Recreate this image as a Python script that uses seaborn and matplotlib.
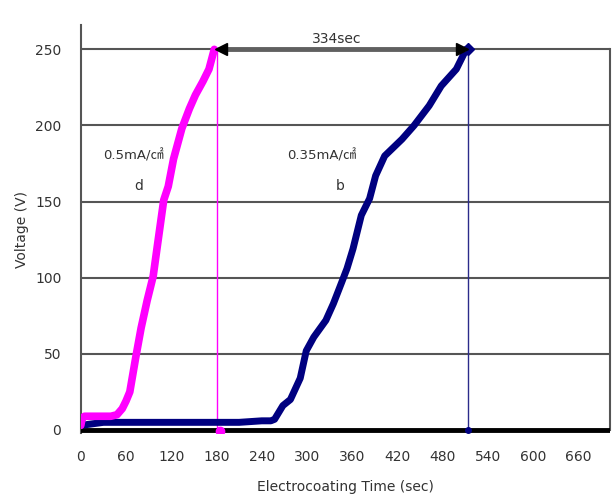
import matplotlib.pyplot as plt
import seaborn as sns
import numpy as np

# Voltage curves (time in sec, voltage in V)
t_05 = [0, 2, 5, 20, 40, 48, 55, 60, 65, 73, 80, 88, 96, 101, 110, 116,
        123, 134, 144, 152, 162, 170, 177]
v_05 = [3, 8, 9, 9, 9, 10, 14, 19, 25, 48, 67, 85, 101, 119, 151, 160,
        178, 198, 211, 220, 229, 237, 250]

t_035 = [0, 30, 60, 90, 120, 150, 180, 210, 240, 252, 257, 268, 278, 291,
         299, 309, 325, 335, 346, 353, 361, 372, 383, 391, 403, 426, 442,
         462, 478, 498, 511]
v_035 = [3, 5, 5, 5, 5, 5, 5, 5, 6, 6, 7, 16, 20, 34, 52, 61, 72, 83, 97,
         106, 119, 141, 152, 167, 180, 191, 200, 213, 226, 237, 250]

end_05 = 180
end_035 = 514
baseline_t = [0, 702]
baseline_v = [0, 0]
xticks = [0, 60, 120, 180, 240, 300, 360, 420, 480, 540, 600, 660]
yticks = [0, 50, 100, 150, 200, 250]

sns.set_style("white")
plt.rcParams['font.family'] = ['DejaVu Sans', 'Noto Sans CJK KR']

fig = plt.figure(figsize=(6.12, 5), dpi=100)
ax = fig.add_axes([0.132, 0.134, 0.865, 0.816])

# horizontal grid lines
for y in yticks[1:]:
    ax.axhline(y, color="#555555", lw=1.5, zorder=1)

# thin end-point drop lines
ax.vlines(end_05, 0, 250, color="#ff00ff", lw=1, zorder=2)
ax.vlines(end_035, 0, 250, color="#2b2b8a", lw=1, zorder=2)

# black zero series
sns.lineplot(x=baseline_t, y=baseline_v, ax=ax, color="black", lw=3.5, zorder=3)

sns.lineplot(x=t_035, y=v_035, ax=ax, color="#000080", lw=5, zorder=4)
sns.lineplot(x=t_05, y=v_05, ax=ax, color="#ff00ff", lw=5.5, zorder=5)

# end markers
ax.plot([end_05 + 5], [-1], "o", color="#ff00ff", ms=6, zorder=6)
ax.plot([end_035], [0], "o", color="#000080", ms=4, zorder=6)
ax.plot([end_035], [250], "D", color="#000080", ms=6, zorder=6)

# 334 sec arrow: grey shaft, black heads
ax.plot([end_05 + 4, end_035 - 6], [250, 250], color="#606060", lw=3.5, zorder=7)
ax.plot([end_05 + 6], [250], "<", color="black", ms=8, zorder=8)
ax.plot([end_035 - 8], [250], ">", color="black", ms=8, zorder=8)
ax.text(340, 257, "334sec", ha="center", va="center", fontsize=10, color="#333333")

ax.text(70, 180, "0.5mA/㎠", ha="center", va="center", fontsize=9.5, color="#333333")
ax.text(77, 160, "d", ha="center", va="center", fontsize=10, color="#333333")
ax.text(319, 180, "0.35mA/㎠", ha="center", va="center", fontsize=9.5, color="#333333")
ax.text(344, 160, "b", ha="center", va="center", fontsize=10, color="#333333")

ax.set_xlim(0, 702)
ax.set_ylim(-2, 266)
ax.set_xticks(xticks)
ax.set_yticks(yticks)
ax.tick_params(length=0, labelsize=10, labelcolor="#333333")
ax.tick_params(axis="x", pad=12)
ax.tick_params(axis="y", pad=14)
ax.set_xlabel("Electrocoating Time (sec)", fontsize=10, color="#333333", labelpad=12)
ax.set_ylabel("Voltage (V)", fontsize=10, color="#333333", labelpad=4)

for side in ["left", "right"]:
    ax.spines[side].set_color("#555555")
    ax.spines[side].set_linewidth(1.5)
ax.spines["right"].set_bounds(0, 250)
ax.spines["top"].set_visible(False)
ax.spines["bottom"].set_visible(False)

fig.savefig("out.png", dpi=100)
